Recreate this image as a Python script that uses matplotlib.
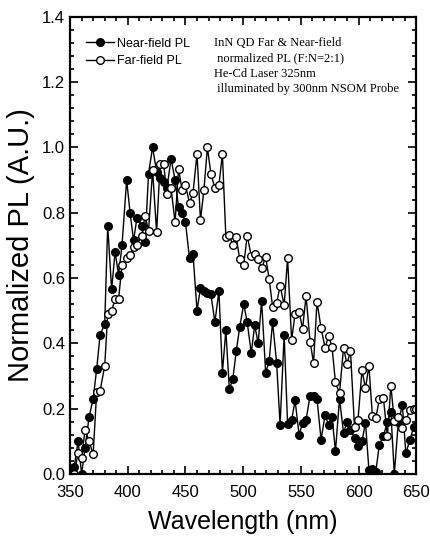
import matplotlib.pyplot as plt
from matplotlib.ticker import MultipleLocator

plt.rcParams['font.family'] = ['Liberation Sans', 'DejaVu Sans']

# near-field PL (filled circles)
near_nm = [351, 353.5, 357, 360, 363, 366.5, 370, 373, 376, 380, 382.6, 386, 389, 392,
           395, 399, 402, 405, 408, 412, 415, 418, 421.5, 425, 428, 431, 434, 437.5,
           441, 444, 447, 450, 453.5, 456.5, 460, 463, 466, 469, 472, 475.5, 479, 482,
           485, 488, 491, 494, 497, 500.5, 503.5, 507, 510, 513, 516, 519.5, 522.5,
           525.5, 529, 532, 535.5, 538.5, 542, 545, 548.5, 551.5, 554.5, 558, 561, 564,
           567.5, 571, 574, 577, 580, 583.5, 587, 590, 593, 596.5, 599.5, 603, 606, 609,
           612, 615, 618, 621.5, 625, 628, 631, 634.5, 638, 641, 644.5, 648]
near_pl = [0.0, 0.02, 0.10, 0.0, 0.08, 0.175, 0.23, 0.32, 0.425, 0.46, 0.76, 0.565, 0.68, 0.61,
           0.70, 0.90, 0.80, 0.715, 0.785, 0.76, 0.71, 0.92, 1.0, 0.925, 0.905, 0.895, 0.877, 0.965,
           0.90, 0.817, 0.80, 0.77, 0.66, 0.675, 0.50, 0.57, 0.56, 0.555, 0.55, 0.465, 0.56, 0.31,
           0.44, 0.26, 0.29, 0.375, 0.45, 0.52, 0.465, 0.37, 0.455, 0.40, 0.53, 0.31, 0.345,
           0.465, 0.34, 0.15, 0.425, 0.153, 0.165, 0.225, 0.12, 0.155, 0.165, 0.24, 0.24, 0.23,
           0.105, 0.18, 0.15, 0.175, 0.07, 0.23, 0.125, 0.16, 0.135, 0.11, 0.085, 0.10, 0.157, 0.012,
           0.015, 0.007, 0.09, 0.115, 0.16, 0.19, 0.0, 0.16, 0.21, 0.063, 0.105, 0.145]

# far-field PL (open circles)
far_nm = [353.5, 357, 360, 363, 366.5, 370, 373, 376, 380, 382.6, 386, 389, 392,
          395, 399, 402, 405, 408, 412, 415, 418, 421.5, 425, 428, 431, 434, 437.5,
          441, 444, 447, 450, 453.5, 456.5, 460, 463, 466, 469, 472, 475.5, 479, 482,
          485, 488, 491, 494, 497, 500.5, 503.5, 507, 510, 513, 516, 519.5, 522.5,
          525.5, 529, 532, 535.5, 538.5, 542, 545, 548.5, 551.5, 554.5, 558, 561, 564,
          567.5, 571, 574, 577, 580, 583.5, 587, 590, 593, 596.5, 599.5, 603, 606, 609,
          612, 615, 618, 621.5, 625, 628, 631, 634.5, 638, 641, 644.5, 648, 650]
far_pl = [0.0, 0.065, 0.05, 0.135, 0.10, 0.06, 0.25, 0.255, 0.33, 0.49, 0.50, 0.535, 0.535,
          0.64, 0.66, 0.67, 0.695, 0.70, 0.73, 0.79, 0.745, 0.93, 0.74, 0.95, 0.95, 0.857, 0.875,
          0.77, 0.935, 0.87, 0.885, 0.83, 0.86, 0.98, 0.777, 0.87, 1.0, 0.92, 0.875, 0.885, 0.98,
          0.726, 0.733, 0.70, 0.726, 0.657, 0.64, 0.73, 0.667, 0.672, 0.657, 0.63, 0.664, 0.598,
          0.512, 0.522, 0.577, 0.517, 0.66, 0.41, 0.49, 0.496, 0.445, 0.545, 0.405, 0.34, 0.527,
          0.447, 0.386, 0.423, 0.39, 0.28, 0.247, 0.387, 0.336, 0.377, 0.143, 0.165, 0.318, 0.262, 0.331,
          0.177, 0.172, 0.228, 0.233, 0.116, 0.27, 0.162, 0.173, 0.14, 0.165, 0.195, 0.2, 0.2]

info_lines = ['InN QD Far & Near-field',
              ' normalized PL (F:N=2:1)',
              'He-Cd Laser 325nm',
              ' illuminated by 300nm NSOM Probe']

fig = plt.figure(figsize=(4.30, 5.41), dpi=100)
ax = fig.add_axes([0.163, 0.124, 0.805, 0.845])

ax.plot(near_nm, near_pl, '-o', color='black', lw=1, ms=5.5, mfc='black', mec='black',
        label='Near-field PL')
ax.plot(far_nm, far_pl, '-o', color='black', lw=1, ms=5.5, mfc='white', mec='black',
        label='Far-field PL')

ax.set_xlim(350, 650)
ax.set_ylim(0, 1.4)
ax.xaxis.set_major_locator(MultipleLocator(50))
ax.xaxis.set_minor_locator(MultipleLocator(10))
ax.yaxis.set_major_locator(MultipleLocator(0.2))
ax.yaxis.set_minor_locator(MultipleLocator(0.04))
ax.yaxis.set_major_formatter(plt.FormatStrFormatter('%.1f'))
ax.tick_params(which='both', direction='in', top=True, right=True, width=1.2, labelsize=12)
ax.tick_params(which='major', length=6)
ax.tick_params(which='minor', length=3)
ax.tick_params(axis='x', which='major', pad=8)
for s in ax.spines.values():
    s.set_linewidth(1.6)

ax.set_xlabel('Wavelength (nm)', fontsize=18, labelpad=7)
ax.set_ylabel('Normalized PL (A.U.)', fontsize=21, labelpad=5)

ax.legend(loc='upper left', bbox_to_anchor=(0.032, 0.965), borderaxespad=0, frameon=False,
          fontsize=9, handlelength=2.2, handletextpad=0.3, labelspacing=0.45)

ax.text(0.415, 0.955, '\n'.join(info_lines), transform=ax.transAxes, va='top', ha='left',
        family=['Liberation Serif'], fontsize=9, linespacing=1.35)

fig.savefig('out.png', dpi=100)
